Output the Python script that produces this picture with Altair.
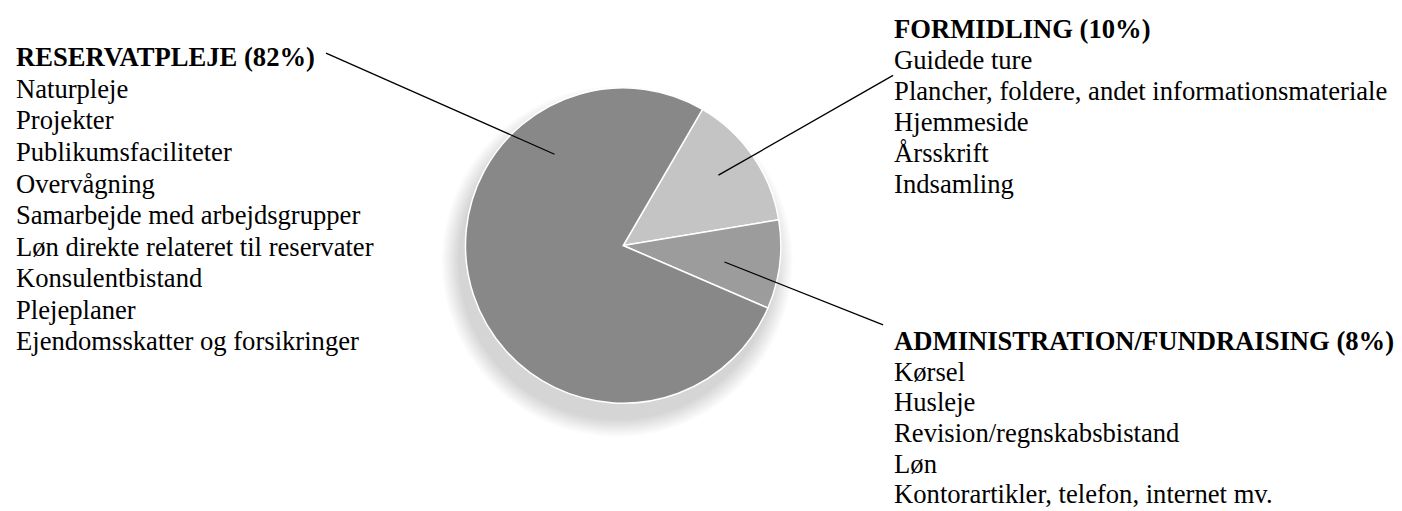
import math
import altair as alt
import pandas as pd

# ---- data ----
categories = ["FORMIDLING", "ADMINISTRATION/FUNDRAISING", "RESERVATPLEJE"]
slice_values = [14.0, 9.1, 76.9]          # drawn slice sizes
slice_colors = ["#c4c4c4", "#9c9c9c", "#888888"]

title_reservat = "RESERVATPLEJE (82%)"
items_reservat = ["Naturpleje", "Projekter", "Publikumsfaciliteter", "Overvågning",
                  "Samarbejde med arbejdsgrupper", "Løn direkte relateret til reservater",
                  "Konsulentbistand", "Plejeplaner", "Ejendomsskatter og forsikringer"]
title_formidling = "FORMIDLING (10%)"
items_formidling = ["Guidede ture", "Plancher, foldere, andet informationsmateriale",
                    "Hjemmeside", "Årsskrift", "Indsamling"]
title_admin = "ADMINISTRATION/FUNDRAISING (8%)"
items_admin = ["Kørsel", "Husleje", "Revision/regnskabsbistand", "Løn",
               "Kontorartikler, telefon, internet mv."]

df = pd.DataFrame({"category": categories, "value": slice_values,
                   "idx": list(range(len(categories)))})

# ---- layout ----
W, H = 1386, 495
CX, CY, R = 616.5, 237.5, 158
START = math.radians(30.2)
FONT = "Liberation Serif"
FS = 26.67
one = alt.Data(values=[{"k": 1}])

# soft shadow (down-left)
shadow_layers = []
for i in range(14):
    shadow_layers.append(
        alt.Chart(one).mark_arc(radius=R + 1 + i * 1.3, theta=0, theta2=2 * math.pi,
                                color="black", opacity=0.0105)
        .encode(x=alt.value(CX - 6), y=alt.value(CY + 16))
    )

pie = alt.Chart(df).mark_arc(radius=R, stroke="white", strokeWidth=1.5).encode(
    theta=alt.Theta("value:Q", stack=True,
                    scale=alt.Scale(range=[START, START + 2 * math.pi])),
    color=alt.Color("category:N", scale=alt.Scale(domain=categories, range=slice_colors),
                    legend=None),
    order=alt.Order("idx:Q"),
    x=alt.value(CX), y=alt.value(CY),
)

def block(title, items, x, y0, lh):
    t = alt.Chart(one).mark_text(text=title, font=FONT, fontSize=FS, fontWeight="bold",
                                 align="left", baseline="alphabetic", color="black"
                                 ).encode(x=alt.value(x), y=alt.value(y0))
    it = alt.Chart(one).mark_text(text=items, font=FONT, fontSize=FS, lineHeight=lh,
                                  align="left", baseline="alphabetic", color="black"
                                  ).encode(x=alt.value(x), y=alt.value(y0 + lh))
    return [t, it]

def leader(x1, y1, x2, y2):
    return alt.Chart(one).mark_rule(color="black", strokeWidth=1.3).encode(
        x=alt.value(x1), y=alt.value(y1), x2=alt.value(x2), y2=alt.value(y2))

texts = (block(title_reservat, items_reservat, 8, 58, 31.6)
         + block(title_formidling, items_formidling, 888, 30, 31.0)
         + block(title_admin, items_admin, 888, 342, 30.8))

rules = [leader(318.7, 44.7, 547.7, 146),
         leader(887, 67, 712, 167),
         leader(877, 317, 718, 254)]

chart = alt.layer(*shadow_layers, pie, *rules, *texts).properties(
    width=W, height=H, padding=0
).configure_view(stroke=None)

chart.save("out.html", embed_options={"renderer": "svg", "actions": False})
